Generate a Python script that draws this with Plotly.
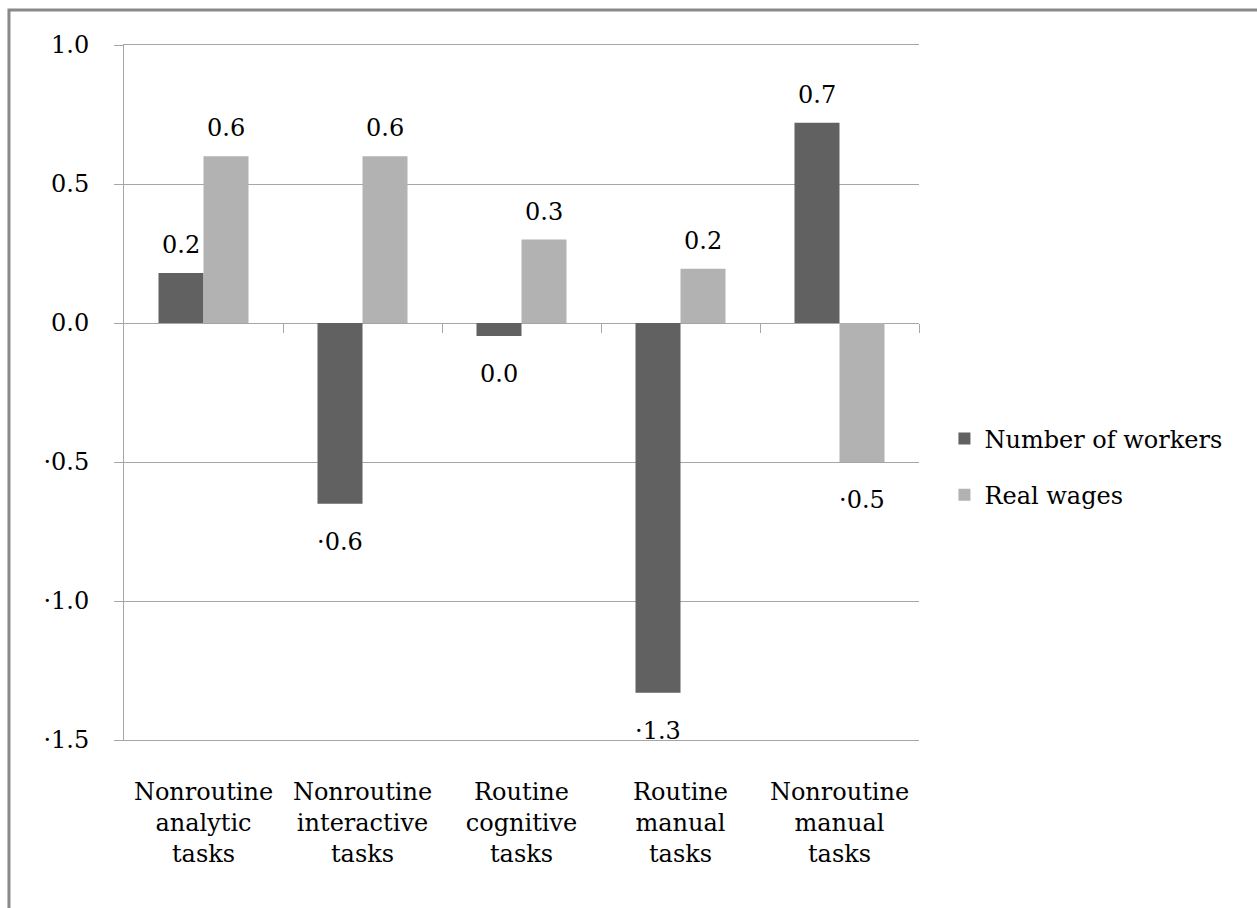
import plotly.graph_objects as go

categories = ["Nonroutine<br>analytic<br>tasks", "Nonroutine<br>interactive<br>tasks",
              "Routine<br>cognitive<br>tasks", "Routine<br>manual<br>tasks",
              "Nonroutine<br>manual<br>tasks"]
workers = [0.18, -0.65, -0.047, -1.33, 0.72]
wages = [0.60, 0.60, 0.30, 0.195, -0.50]
workers_labels = ["0.2", "·0.6", "0.0", "·1.3", "0.7"]
wages_labels = ["0.6", "0.6", "0.3", "0.2", "·0.5"]
y_ticks = [1.0, 0.5, 0.0, -0.5, -1.0, -1.5]
y_tick_text = ["1.0", "0.5", "0.0", "·0.5", "·1.0", "·1.5"]

FONT = "DejaVu Serif"
GRID = "#a6a6a6"

fig = go.Figure()
fig.add_trace(go.Bar(x=categories, y=workers, name="Number of workers",
                     marker=dict(color="#616161", line=dict(width=0)),
                     legendgroup="a", hoverinfo="x+y"))
fig.add_trace(go.Bar(x=categories, y=wages, name="Real wages",
                     marker=dict(color="#b2b2b2", line=dict(width=0)),
                     legendgroup="b", hoverinfo="x+y"))
# invisible helper trace for the category boundary ticks on the zero line
fig.add_trace(go.Scatter(x=[0, len(categories) - 1], y=[0, 0], xaxis="x2",
                         mode="markers", marker=dict(opacity=0),
                         showlegend=False, hoverinfo="skip"))

annotations = []
for series, labels, xs in ((workers, workers_labels, -22.5), (wages, wages_labels, 22.5)):
    for cat, v, lab in zip(categories, series, labels):
        annotations.append(dict(x=cat, y=v, xref="x", yref="y", text=lab,
                                showarrow=False, xshift=xs,
                                yshift=28 if v >= 0 else -38,
                                yanchor="middle", xanchor="center",
                                font=dict(family=FONT, size=24, color="black")))

n = len(categories)
fig.update_layout(
    width=1257, height=908,
    margin=dict(l=124, r=338, t=45, b=168),
    paper_bgcolor="white", plot_bgcolor="white",
    font=dict(family=FONT, size=24, color="black"),
    barmode="group", bargap=0.434, bargroupgap=0,
    annotations=annotations,
    xaxis=dict(showgrid=False, zeroline=False, showline=True, mirror=True,
               linecolor=GRID, linewidth=1, ticks="",
               tickfont=dict(family=FONT, size=24, color="black"),
               ticklabelstandoff=30,
               range=[-0.5, n - 0.5]),
    xaxis2=dict(overlaying="x", anchor="free", position=1.5 / 2.5,
                range=[-0.5, n - 0.5], showgrid=False, zeroline=False,
                showline=False, showticklabels=False, ticks="outside",
                ticklen=9, tickwidth=1, tickcolor=GRID,
                tickvals=[i + 0.5 for i in range(n)], side="bottom"),
    yaxis=dict(range=[-1.5, 1.0], tickvals=y_ticks, ticktext=y_tick_text,
               showgrid=True, gridcolor=GRID, gridwidth=1,
               zeroline=True, zerolinecolor=GRID, zerolinewidth=1,
               showline=True, linecolor=GRID, linewidth=1,
               ticks="outside", ticklen=9, tickcolor=GRID,
               tickfont=dict(family=FONT, size=24, color="black"),
               ticklabelstandoff=20),
    legend=dict(x=1.032, xanchor="left", y=0.393, yanchor="middle",
                traceorder="grouped", tracegroupgap=22,
                font=dict(family=FONT, size=24, color="black"),
                itemwidth=30, bgcolor="rgba(0,0,0,0)"),
    shapes=[dict(type="rect", xref="paper", yref="paper",
                 x0=-0.1447, x1=1.6, y0=-0.4, y1=1.0504,
                 line=dict(color="#898989", width=3), layer="below")],
)

fig.write_html("out.html")
